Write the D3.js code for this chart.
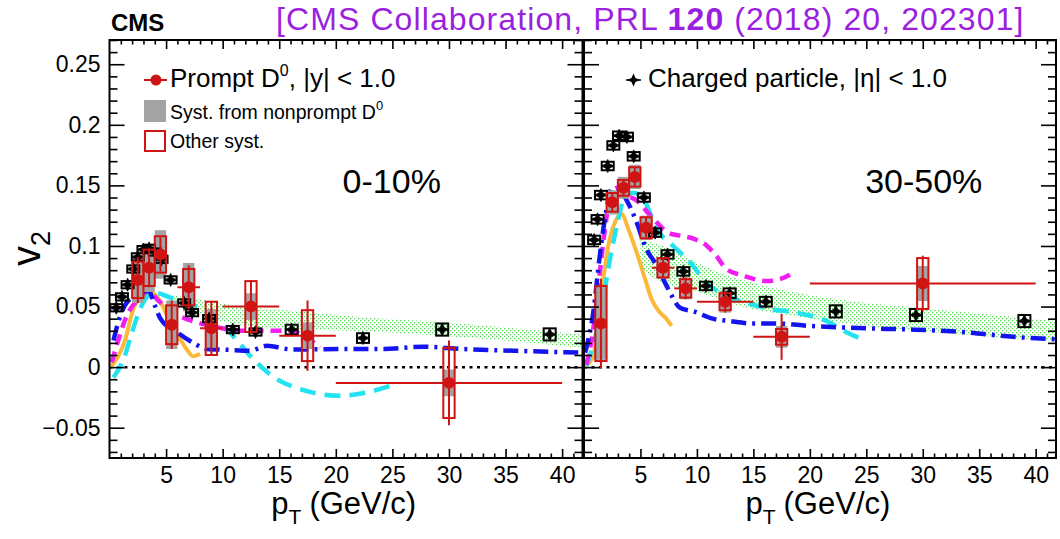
<!DOCTYPE html>
<html>
<head>
<meta charset="utf-8">
<script src="https://cdn.jsdelivr.net/npm/d3@7"></script>
<style>
body { margin: 0; background: #fff; }
svg { font-family: "Liberation Sans", Arial, sans-serif; }
</style>
</head>
<body>
<svg id="chart" width="1060" height="539"></svg>
<script>
// ---- axis ticks and labels ----
var xMajor = [5, 10, 15, 20, 25, 30, 35, 40];
var yMajor = [-0.05, 0, 0.05, 0.1, 0.15, 0.2, 0.25];
var yMajorLabels = ["\u22120.05", "0", "0.05", "0.1", "0.15", "0.2", "0.25"];
var panelLabels = ["0-10%", "30-50%"];

// ---- prompt D0, 0-10% ----
var d0Pt_0_10    = [2.5, 3.5, 4.5, 5.5, 7, 9, 12.5, 17.5, 30];
var d0V2_0_10    = [0.072, 0.082, 0.093, 0.035, 0.066, 0.032, 0.050, 0.026, -0.013];
var d0Stat_0_10  = [0.019, 0.016, 0.014, 0.020, 0.018, 0.022, 0.022, 0.029, 0.035];
var d0Syst_0_10  = [0.015, 0.015, 0.015, 0.016, 0.015, 0.022, 0.021, 0.021, 0.029];
var d0NpSyst_0_10 = [0.019, 0.020, 0.020, 0.020, 0.020, 0.016, 0.011, 0.011, 0.011];
var d0BinLo_0_10 = [2, 3, 4, 5, 6, 8, 10, 15, 20];
var d0BinHi_0_10 = [3, 4, 5, 6, 8, 10, 15, 20, 40];

// ---- prompt D0, 30-50% ----
var d0Pt_30_50    = [1.5, 2.5, 3.5, 4.5, 5.5, 7, 9, 12.5, 17.5, 30];
var d0V2_30_50    = [0.036, 0.136, 0.148, 0.157, 0.115, 0.082, 0.065, 0.054, 0.025, 0.069];
var d0Stat_30_50  = [0.037, 0.008, 0.007, 0.008, 0.008, 0.008, 0.009, 0.009, 0.019, 0.023];
var d0Syst_30_50  = [0.031, 0.0077, 0.0065, 0.008, 0.0087, 0.008, 0.0076, 0.007, 0.0065, 0.021];
var d0NpSyst_30_50 = [0.030, 0.010, 0.009, 0.010, 0.010, 0.009, 0.009, 0.009, 0.009, 0.0145];
var d0BinLo_30_50 = [1, 2, 3, 4, 5, 6, 8, 10, 15, 20];
var d0BinHi_30_50 = [2, 3, 4, 5, 6, 8, 10, 15, 20, 40];

// ---- charged particles ----
var chPt_0_10   = [0.6, 1.1, 1.6, 2.1, 2.5, 3.0, 3.5, 4.0, 4.6, 5.4, 6.6, 7.3, 8.8, 10.9, 12.9, 16.1, 22.4, 29.4, 38.9];
var chV2_0_10   = [0.049, 0.058, 0.068, 0.081, 0.091, 0.097, 0.098, 0.095, 0.089, 0.072, 0.053, 0.045, 0.040, 0.031, 0.029, 0.031, 0.024, 0.031, 0.027];
var chSyst_0_10 = [0.003, 0.003, 0.003, 0.003, 0.003, 0.003, 0.003, 0.003, 0.003, 0.003, 0.003, 0.003, 0.003, 0.003, 0.003, 0.004, 0.004, 0.005, 0.005];
var chPt_30_50   = [0.9, 1.2, 1.5, 2.1, 2.6, 3.1, 3.8, 4.4, 5.3, 6.3, 7.4, 8.8, 10.8, 12.9, 16.1, 22.3, 29.4, 39.0];
var chV2_30_50   = [0.105, 0.122, 0.142, 0.166, 0.183, 0.191, 0.190, 0.174, 0.140, 0.111, 0.093, 0.079, 0.067, 0.061, 0.054, 0.046, 0.043, 0.038];
var chSyst_30_50 = [0.0035, 0.0035, 0.0035, 0.0035, 0.0035, 0.0035, 0.0035, 0.0035, 0.0035, 0.0035, 0.0035, 0.0035, 0.0035, 0.004, 0.004, 0.005, 0.005, 0.005];

// ---- model curves, [pT, v2] ----
var orange_0_10 = [[0.1,0],[1.4,0.023],[2.1,0.048],[3.0,0.059],[3.6,0.062],[4.5,0.054],[5.1,0.042],[5.65,0.031],[6.25,0.023],[6.8,0.015],[7.4,0.009],[8.0,0.011]];
var cyan_0_10 = [[0.35,-0.0085],[1.25,0.0066],[2.0,0.029],[2.7,0.048],[3.6,0.060],[4.2,0.061],[5.2,0.058],[6.8,0.053],[8.6,0.046],[10.9,0.026],[12.7,0.0066],[14.8,-0.01],[16.5,-0.017],[18,-0.021],[20.4,-0.0237],[22.7,-0.021],[24.8,-0.0155]];
var magenta_0_10 = [[0.2,0.004],[0.8,0.023],[1.5,0.042],[2.55,0.056],[3.45,0.063],[4.2,0.056],[5.2,0.048],[6.25,0.042],[7.7,0.037],[9.5,0.033],[11.5,0.030],[13.6,0.030],[15.7,0.030],[17.2,0.026],[18.6,0.016]];
var blue_0_10 = [[0.35,0.022],[0.94,0.042],[1.5,0.053],[2.4,0.059],[3.45,0.063],[4.0,0.051],[4.5,0.040],[5.95,0.029],[7.4,0.020],[8.6,0.015],[10.4,0.0143],[12.4,0.0135],[13.9,0.0176],[16.2,0.0145],[20.4,0.015],[24.2,0.015],[27.7,0.0168],[31.2,0.015],[35.7,0.0135],[41.8,0.012]];
var orange_30_50 = [[0,0],[0.83,0.0094],[1.27,0.042],[1.71,0.073],[2.15,0.100],[2.74,0.1196],[3.33,0.1264],[3.92,0.114],[4.66,0.0948],[5.4,0.073],[5.99,0.056],[6.73,0.045],[7.3,0.040],[7.75,0.034]];
var cyan_30_50 = [[0.23,0.001],[1.1,0.0287],[1.7,0.056],[2.3,0.089],[3.04,0.122],[3.63,0.1416],[4.37,0.144],[5.25,0.139],[6.44,0.114],[7.9,0.100],[9.4,0.0865],[10.8,0.070],[12.6,0.059],[14.4,0.053],[16.5,0.048],[18.8,0.045],[21.5,0.038],[23.2,0.029],[24.9,0.022]];
var magenta_30_50 = [[0.2,0.002],[0.8,0.03],[1.3,0.07],[1.8,0.11],[2.3,0.14],[2.9,0.148],[3.5,0.143],[4.66,0.1375],[5.99,0.124],[7.46,0.111],[8.5,0.1085],[9.7,0.106],[10.9,0.100],[11.7,0.092],[12.6,0.081],[14.1,0.0755],[16.2,0.071],[17.35,0.0727],[18.6,0.078]];
var blue_30_50 = [[0.1,0.012],[0.82,0.045],[1.4,0.092],[2.0,0.1306],[2.45,0.147],[3.2,0.145],[4.04,0.133],[4.66,0.1196],[5.4,0.100],[6.44,0.0837],[7.46,0.0645],[8.5,0.049],[9.7,0.046],[11.4,0.040],[12.9,0.038],[15,0.036],[17,0.036],[20,0.034],[25,0.032],[29,0.031],[33.5,0.029],[38,0.025],[41.8,0.023]];

// ---- green band (upper / lower edges) ----
var bandTop_0_10 = [[5.2,0.060],[7.9,0.056],[11.6,0.050],[16.9,0.046],[21.3,0.042],[29.4,0.037],[41.8,0.027]];
var bandBot_0_10 = [[5.2,0.055],[7.9,0.043],[11.6,0.035],[16.9,0.031],[21.3,0.030],[29.4,0.026],[41.8,0.016]];
var bandTop_30_50 = [[5,0.105],[7,0.100],[9.4,0.089],[12,0.078],[14.4,0.071],[17.4,0.064],[23.2,0.055],[32,0.047],[41.8,0.038]];
var bandBot_30_50 = [[5,0.082],[7,0.069],[9.4,0.064],[12,0.056],[15,0.049],[17.9,0.044],[21.8,0.036],[32,0.028],[41.8,0.022]];

var svg = d3.select("#chart");
var yTop = 40, yBot = 458;
var red = "#d01414";
var labelPt = [20.6, 24.9];

var y = d3.scaleLinear().domain([-0.075, 0.27]).range([yBot, yTop]);
var xs = [
  d3.scaleLinear().domain([0, 41.8]).range([109.5, 582.5]),
  d3.scaleLinear().domain([0, 41.8]).range([584, 1056])
];

// dotted green fill
var defs = svg.append("defs");
var pat = defs.append("pattern").attr("id", "greenDots").attr("patternUnits", "userSpaceOnUse")
  .attr("width", 4).attr("height", 4);
pat.append("rect").attr("x", 0).attr("y", 0).attr("width", 1.3).attr("height", 1.3).attr("fill", "#52d852");
pat.append("rect").attr("x", 2).attr("y", 2).attr("width", 1.3).attr("height", 1.3).attr("fill", "#52d852");

var starPath = "M0,-6.5L2,-2L6.5,0L2,2L0,6.5L-2,2L-6.5,0L-2,-2Z";

var panels = [
  { d0: [d0Pt_0_10, d0V2_0_10, d0Stat_0_10, d0Syst_0_10, d0NpSyst_0_10, d0BinLo_0_10, d0BinHi_0_10],
    ch: [chPt_0_10, chV2_0_10, chSyst_0_10],
    curves: [orange_0_10, cyan_0_10, magenta_0_10, blue_0_10],
    band: [bandTop_0_10, bandBot_0_10] },
  { d0: [d0Pt_30_50, d0V2_30_50, d0Stat_30_50, d0Syst_30_50, d0NpSyst_30_50, d0BinLo_30_50, d0BinHi_30_50],
    ch: [chPt_30_50, chV2_30_50, chSyst_30_50],
    curves: [orange_30_50, cyan_30_50, magenta_30_50, blue_30_50],
    band: [bandTop_30_50, bandBot_30_50] }
];

var curveStyle = [
  { color: "#fbb93a", dash: null, w: 4 },
  { color: "#22e3ef", dash: "16,9", w: 4.5 },
  { color: "#f01ef0", dash: "11,7", w: 4.5 },
  { color: "#1414f0", dash: "15,6,3,6", w: 4.5 }
];

panels.forEach(function(p, i) {
  var x = xs[i];
  var g = svg.append("g");
  var clipId = "clip" + i;
  defs.append("clipPath").attr("id", clipId).append("rect")
    .attr("x", x.range()[0]).attr("y", yTop).attr("width", x.range()[1] - x.range()[0]).attr("height", yBot - yTop);
  var inner = g.append("g").attr("clip-path", "url(#" + clipId + ")");

  // band
  var area = d3.area().x(function(d) { return x(d[0]); }).y0(function(d) { return y(d[2]); }).y1(function(d) { return y(d[1]); })
    .curve(d3.curveMonotoneX);
  var bandPts = p.band[0].map(function(d, k) { return [d[0], d[1], p.band[1][k][1]]; });
  inner.append("path").attr("d", area(bandPts)).attr("fill", "url(#greenDots)");

  // zero line
  inner.append("line").attr("x1", x.range()[0]).attr("x2", x.range()[1]).attr("y1", y(0)).attr("y2", y(0))
    .attr("stroke", "#000").attr("stroke-width", 2.5).attr("stroke-dasharray", "3,4.5");

  // model curves
  var line = d3.line().x(function(d) { return x(d[0]); }).y(function(d) { return y(d[1]); }).curve(d3.curveMonotoneX);
  p.curves.forEach(function(c, k) {
    var st = curveStyle[k];
    inner.append("path").attr("d", line(c)).attr("fill", "none").attr("stroke", st.color)
      .attr("stroke-width", st.w).attr("stroke-dasharray", st.dash);
  });

  // D0 nonprompt syst (gray)
  var d0 = d3.range(p.d0[0].length).map(function(k) {
    return { pt: p.d0[0][k], v2: p.d0[1][k], stat: p.d0[2][k], syst: p.d0[3][k], np: p.d0[4][k], lo: p.d0[5][k], hi: p.d0[6][k] };
  });
  inner.selectAll(".np").data(d0).enter().append("rect")
    .attr("x", function(d) { return x(d.pt - 0.5); }).attr("width", function(d) { return x(d.pt + 0.5) - x(d.pt - 0.5); })
    .attr("y", function(d) { return y(d.v2 + d.np); }).attr("height", function(d) { return y(d.v2 - d.np) - y(d.v2 + d.np); })
    .attr("fill", "#a3a3a3");

  // charged particles
  var ch = d3.range(p.ch[0].length).map(function(k) { return { pt: p.ch[0][k], v2: p.ch[1][k], syst: p.ch[2][k] }; });
  inner.selectAll(".chbox").data(ch).enter().append("rect")
    .attr("x", function(d) { return x(d.pt) - 6; }).attr("width", 12)
    .attr("y", function(d) { return y(d.v2 + d.syst); }).attr("height", function(d) { return y(d.v2 - d.syst) - y(d.v2 + d.syst); })
    .attr("fill", "none").attr("stroke", "#000").attr("stroke-width", 2);
  inner.selectAll(".chpt").data(ch).enter().append("path")
    .attr("d", starPath).attr("transform", function(d) { return "translate(" + x(d.pt) + "," + y(d.v2) + ")"; })
    .attr("fill", "#000").attr("stroke", "#000").attr("stroke-width", 0.8);

  // D0 other syst (red open boxes), stat bars, bins, markers
  inner.selectAll(".sys").data(d0).enter().append("rect")
    .attr("x", function(d) { return x(d.pt - 0.5); }).attr("width", function(d) { return x(d.pt + 0.5) - x(d.pt - 0.5); })
    .attr("y", function(d) { return y(d.v2 + d.syst); }).attr("height", function(d) { return y(d.v2 - d.syst) - y(d.v2 + d.syst); })
    .attr("fill", "none").attr("stroke", red).attr("stroke-width", 2);
  inner.selectAll(".hbar").data(d0).enter().append("line")
    .attr("x1", function(d) { return x(d.lo); }).attr("x2", function(d) { return x(d.hi); })
    .attr("y1", function(d) { return y(d.v2); }).attr("y2", function(d) { return y(d.v2); })
    .attr("stroke", red).attr("stroke-width", 2);
  inner.selectAll(".vbar").data(d0).enter().append("line")
    .attr("x1", function(d) { return x(d.pt); }).attr("x2", function(d) { return x(d.pt); })
    .attr("y1", function(d) { return y(d.v2 + d.stat); }).attr("y2", function(d) { return y(d.v2 - d.stat); })
    .attr("stroke", red).attr("stroke-width", 2);
  inner.selectAll(".dot").data(d0).enter().append("circle")
    .attr("cx", function(d) { return x(d.pt); }).attr("cy", function(d) { return y(d.v2); }).attr("r", 6)
    .attr("fill", red);

  // frame
  g.append("rect").attr("x", x.range()[0]).attr("y", yTop).attr("width", x.range()[1] - x.range()[0]).attr("height", yBot - yTop)
    .attr("fill", "none").attr("stroke", "#000").attr("stroke-width", 2);

  // axes (ticks inside)
  var xMinor = d3.range(1, 42).filter(function(v) { return v % 5 !== 0; });
  var yMinor = d3.range(-7, 28).map(function(v) { return v / 100; }).filter(function(v) { return Math.round(v * 100) % 5 !== 0; });
  var axes = [
    [d3.axisBottom(x).tickValues(xMajor).tickSize(-9).tickPadding(9), "translate(0," + yBot + ")"],
    [d3.axisBottom(x).tickValues(xMinor).tickSize(-4.5).tickFormat(""), "translate(0," + yBot + ")"],
    [d3.axisTop(x).tickValues(xMajor).tickSize(-9).tickFormat(""), "translate(0," + yTop + ")"],
    [d3.axisTop(x).tickValues(xMinor).tickSize(-4.5).tickFormat(""), "translate(0," + yTop + ")"],
    [d3.axisLeft(y).tickValues(yMajor).tickSize(-15).tickPadding(9)
       .tickFormat(i === 0 ? function(d, k) { return yMajorLabels[k]; } : ""), "translate(" + x.range()[0] + ",0)"],
    [d3.axisLeft(y).tickValues(yMinor).tickSize(-8).tickFormat(""), "translate(" + x.range()[0] + ",0)"],
    [d3.axisRight(y).tickValues(yMajor).tickSize(-15).tickFormat(""), "translate(" + x.range()[1] + ",0)"],
    [d3.axisRight(y).tickValues(yMinor).tickSize(-8).tickFormat(""), "translate(" + x.range()[1] + ",0)"]
  ];
  axes.forEach(function(a) {
    var ag = g.append("g").attr("transform", a[1]).call(a[0]);
    ag.select(".domain").remove();
    ag.selectAll(".tick line").attr("stroke", "#000").attr("stroke-width", 1.6);
    ag.selectAll("text").attr("fill", "#000").attr("font-size", 23)
      .attr("font-family", "'Liberation Sans', Arial, sans-serif");
  });

  // panel label
  g.append("text").attr("x", x(labelPt[i])).attr("y", 193).attr("font-size", 34).text(panelLabels[i]);

  // x title
  var xt = g.append("text").attr("x", x(14.3)).attr("y", 514).attr("font-size", 31);
  xt.append("tspan").text("p");
  xt.append("tspan").attr("font-size", 21).attr("dy", 10).text("T");
  xt.append("tspan").attr("dy", -10).attr("dx", 8).text("(GeV/c)");
});

// legend, left panel
svg.append("line").attr("x1", 144).attr("x2", 167).attr("y1", 80).attr("y2", 80).attr("stroke", red).attr("stroke-width", 2);
svg.append("circle").attr("cx", 156).attr("cy", 80).attr("r", 5.5).attr("fill", red);
var t1 = svg.append("text").attr("x", 170).attr("y", 87).attr("font-size", 26);
t1.append("tspan").text("Prompt D");
t1.append("tspan").attr("font-size", 16).attr("dy", -11).text("0");
t1.append("tspan").attr("dy", 11).text(", |y| < 1.0");
svg.append("rect").attr("x", 144).attr("y", 100).attr("width", 22).attr("height", 22).attr("fill", "#a3a3a3");
var t2 = svg.append("text").attr("x", 170).attr("y", 119).attr("font-size", 19.5);
t2.append("tspan").text("Syst. from nonprompt D");
t2.append("tspan").attr("font-size", 13).attr("dy", -9).text("0");
svg.append("rect").attr("x", 145).attr("y", 131).attr("width", 20).attr("height", 20)
  .attr("fill", "none").attr("stroke", red).attr("stroke-width", 2);
svg.append("text").attr("x", 170).attr("y", 148).attr("font-size", 19.5).text("Other syst.");

// legend, right panel
svg.append("line").attr("x1", 626).attr("x2", 641).attr("y1", 80).attr("y2", 80).attr("stroke", "#000").attr("stroke-width", 1.5);
svg.append("path").attr("d", starPath).attr("transform", "translate(633.5,80)").attr("fill", "#000");
svg.append("text").attr("x", 648).attr("y", 87).attr("font-size", 26).text("Charged particle, |\u03b7| < 1.0");

// y title
var yt = svg.append("text").attr("transform", "translate(40,266) rotate(-90)").attr("font-size", 40);
yt.append("tspan").text("v");
yt.append("tspan").attr("font-size", 27).attr("dy", 10).text("2");

// header
svg.append("text").attr("x", 111).attr("y", 31).attr("font-size", 24).attr("font-weight", "bold").text("CMS");
var ht = svg.append("text").attr("x", 276).attr("y", 30).attr("font-size", 32)
  .attr("letter-spacing", 1.1).attr("fill", "#9b1fe0");
ht.append("tspan").text("[CMS Collaboration, PRL ");
ht.append("tspan").attr("font-weight", "bold").text("120");
ht.append("tspan").text(" (2018) 20, 202301]");
</script>
</body>
</html>
